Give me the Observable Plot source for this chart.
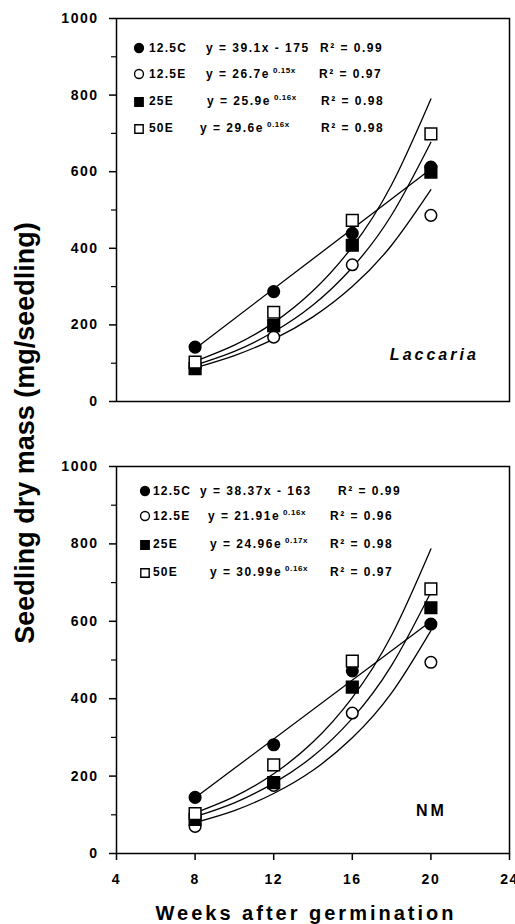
<!DOCTYPE html>
<html>
<head>
<meta charset="utf-8">
<script src="https://cdn.jsdelivr.net/npm/d3@7"></script>
<script src="https://cdn.jsdelivr.net/npm/@observablehq/plot@0.6"></script>
<style>
  body { margin: 0; background: #fff; }
  #chart { position: relative; width: 515px; height: 924px; overflow: hidden;
           font-family: "Liberation Sans", Arial, sans-serif; }
  #chart svg { position: absolute; left: 0; overflow: visible; }
</style>
</head>
<body>
<div id="chart"></div>
<script>
// ---- Data -------------------------------------------------------------
const weeks = [8, 12, 16, 20];
const treatments = ["12.5C", "12.5E", "25E", "50E"];

// Seedling dry mass (mg/seedling), Laccaria inoculated
const laccaria12_5C = [142, 287, 439, 612];
const laccaria12_5E = [88, 168, 357, 486];
const laccaria25E   = [86, 198, 408, 599];
const laccaria50E   = [103, 233, 473, 699];

// Seedling dry mass (mg/seedling), non-mycorrhizal
const nm12_5C = [145, 281, 472, 593];
const nm12_5E = [70, 176, 363, 494];
const nm25E   = [88, 183, 430, 635];
const nm50E   = [103, 229, 497, 684];

// Fitted trend lines
const linWeeks = [8, 20];
const laccariaLin12_5C = [138, 607];
const nmLin12_5C = [144, 600];
const fitWeeks = [8, 10, 12, 14, 16, 18, 20];
const laccariaFit12_5E = [88, 120, 163, 221, 300, 408, 553];
const laccariaFit25E   = [95, 131, 182, 252, 350, 487, 677];
const laccariaFit50E   = [105, 147, 206, 289, 404, 566, 790];
const nmFit12_5E = [80, 111, 155, 215, 299, 415, 576];
const nmFit25E   = [95, 131, 182, 251, 349, 486, 675];
const nmFit50E   = [105, 147, 206, 288, 403, 564, 787];

// Legend text
const laccariaEq  = ["y = 39.1x - 175", "y = 26.7e", "y = 25.9e", "y = 29.6e"];
const laccariaExp = ["", "0.15x", "0.16x", "0.16x"];
const laccariaR2  = ["0.99", "0.97", "0.98", "0.98"];
const nmEq  = ["y = 38.37x - 163", "y = 21.91e", "y = 24.96e", "y = 30.99e"];
const nmExp = ["", "0.16x", "0.17x", "0.16x"];
const nmR2  = ["0.99", "0.96", "0.98", "0.97"];

// Axis ticks
const yMajor = [0, 200, 400, 600, 800, 1000];
const yMinor = [100, 300, 500, 700, 900];
const xTicks = [4, 8, 12, 16, 20, 24];

const yTitle = "Seedling dry mass (mg/seedling)";
const xTitle = "Weeks after germination";

// ---- Helpers ----------------------------------------------------------
const FONT = '"Liberation Sans", Arial, sans-serif';
const markStyle = {
  symbol: { "12.5C": "circle", "12.5E": "circle", "25E": "square", "50E": "square" },
  fill:   { "12.5C": "black", "12.5E": "white", "25E": "black", "50E": "white" }
};
const drawOrder = ["12.5E", "25E", "12.5C", "50E"];

function rows(xs, ys, series) {
  return xs.map((x, i) => ({ week: x, mass: ys[i], series }));
}

function panel(cfg) {
  const marks = [
    Plot.frame({ stroke: "black", strokeWidth: 1.5 }),
    Plot.axisY({ ticks: yMajor, tickSize: 7, tickPadding: 11, strokeWidth: 1.5,
                 tickFormat: d => String(d), fontSize: 14, fontWeight: "bold", label: null }),
    Plot.axisY({ ticks: yMinor, tickSize: 5, strokeWidth: 1.2, tickFormat: () => "", label: null }),
  ];
  if (cfg.showX) {
    marks.push(Plot.axisX({ ticks: xTicks, tickSize: 7, tickPadding: 14, strokeWidth: 1.5,
                            tickFormat: d => String(d), fontSize: 14, fontWeight: "bold", label: null }));
  }
  marks.push(Plot.line(cfg.lin, { x: "week", y: "mass", stroke: "black", strokeWidth: 1.3 }));
  marks.push(Plot.line(cfg.fits, { x: "week", y: "mass", z: "series", curve: "natural",
                                   stroke: "black", strokeWidth: 1.3 }));
  for (const s of drawOrder) {
    const sq = markStyle.symbol[s] === "square";
    marks.push(Plot.dot(cfg.points.filter(d => d.series === s), {
      x: "week", y: "mass", symbol: markStyle.symbol[s], r: sq ? 6.6 : 5.8,
      fill: markStyle.fill[s], stroke: "black", strokeWidth: 1.5
    }));
  }

  const svg = Plot.plot({
    width: 515, height: cfg.height,
    marginLeft: 116, marginRight: 6, marginTop: cfg.marginTop, marginBottom: cfg.marginBottom,
    x: { domain: [4, 24], axis: null },
    y: { domain: [0, 1000], axis: null },
    style: { fontFamily: FONT, color: "black", background: "transparent" },
    marks
  });
  svg.style.top = cfg.offset + "px";
  svg.querySelectorAll("[aria-label='y-axis tick label'], [aria-label='x-axis tick label']")
    .forEach(t => { t.style.letterSpacing = "1.5px"; });

  const sx = svg.scale("x"), sy = svg.scale("y");

  // panel name
  d3.select(svg).append("text")
    .attr("x", sx.apply(cfg.nameAt[0])).attr("y", sy.apply(cfg.nameAt[1]))
    .attr("text-anchor", "middle").attr("dominant-baseline", "middle")
    .attr("font-family", FONT).attr("font-weight", "bold").attr("font-size", 16)
    .attr("font-style", cfg.italic ? "italic" : "normal")
    .attr("letter-spacing", "3px").attr("fill", "black").text(cfg.name);

  // legend block inside the plot frame
  const L = cfg.legend;
  const g = d3.select(svg).append("g").attr("font-family", FONT).attr("font-weight", "bold")
    .attr("text-anchor", "start")
    .attr("font-size", 12).attr("letter-spacing", "1.5px").attr("fill", "black");
  treatments.forEach((s, i) => {
    const y = L.rowY[i];
    const sq = markStyle.symbol[s] === "square";
    g.append("path")
      .attr("d", d3.symbol(sq ? d3.symbolSquare : d3.symbolCircle, sq ? 70 : 62)())
      .attr("transform", `translate(${L.markerX},${y + (sq ? 2 : 1)})`)
      .attr("fill", markStyle.fill[s]).attr("stroke", "black").attr("stroke-width", 1.4);
    g.append("text").attr("x", L.labelX).attr("y", y + 4.5)
      .attr("letter-spacing", "1.2px").text(s);
    const eq = g.append("text").attr("x", L.eqX[i]).attr("y", y + 4.5).text(L.eq[i]);
    if (L.exp[i]) {
      eq.append("tspan").attr("dx", 3).attr("dy", -5).attr("font-size", 8)
        .attr("letter-spacing", "0.6px").text(L.exp[i]);
    }
    g.append("text").attr("x", L.r2X[i]).attr("y", y + 4.5).text("R\u00B2 = " + L.r2[i]);
  });
  return svg;
}

// ---- Build ------------------------------------------------------------
const root = document.getElementById("chart");

const laccariaPanel = panel({
  offset: 0, height: 410, marginTop: 18, marginBottom: 9, showX: false,
  points: [...rows(weeks, laccaria12_5C, "12.5C"), ...rows(weeks, laccaria12_5E, "12.5E"),
           ...rows(weeks, laccaria25E, "25E"), ...rows(weeks, laccaria50E, "50E")],
  lin: rows(linWeeks, laccariaLin12_5C, "12.5C"),
  fits: [...rows(fitWeeks, laccariaFit12_5E, "12.5E"), ...rows(fitWeeks, laccariaFit25E, "25E"),
         ...rows(fitWeeks, laccariaFit50E, "50E")],
  name: "Laccaria", italic: true, nameAt: [20.2, 118],
  legend: { rowY: [47, 73, 100, 127], markerX: 139, labelX: 149,
            eqX: [206, 206, 207, 200], r2X: [320, 319, 321, 321],
            eq: laccariaEq, exp: laccariaExp, r2: laccariaR2 }
});

const nmPanel = panel({
  offset: 430, height: 463, marginTop: 36, marginBottom: 40, showX: true,
  points: [...rows(weeks, nm12_5C, "12.5C"), ...rows(weeks, nm12_5E, "12.5E"),
           ...rows(weeks, nm25E, "25E"), ...rows(weeks, nm50E, "50E")],
  lin: rows(linWeeks, nmLin12_5C, "12.5C"),
  fits: [...rows(fitWeeks, nmFit12_5E, "12.5E"), ...rows(fitWeeks, nmFit25E, "25E"),
         ...rows(fitWeeks, nmFit50E, "50E")],
  name: "NM", italic: false, nameAt: [20.05, 106],
  legend: { rowY: [60, 85, 113, 141], markerX: 145, labelX: 153,
            eqX: [200, 208, 210, 210], r2X: [338, 330, 330, 330],
            eq: nmEq, exp: nmExp, r2: nmR2 }
});

root.appendChild(laccariaPanel);
root.appendChild(nmPanel);

// shared axis titles
const titles = d3.select(root).append("svg")
  .attr("width", 515).attr("height", 924).style("top", "0px")
  .attr("font-family", FONT).attr("font-weight", "bold").attr("fill", "black");
titles.append("text")
  .attr("transform", "translate(34,433) rotate(-90)")
  .attr("text-anchor", "middle").attr("font-size", 27).text(yTitle);
titles.append("text")
  .attr("x", 306).attr("y", 920).attr("text-anchor", "middle")
  .attr("font-size", 20).attr("letter-spacing", "3px").text(xTitle);
</script>
</body>
</html>
